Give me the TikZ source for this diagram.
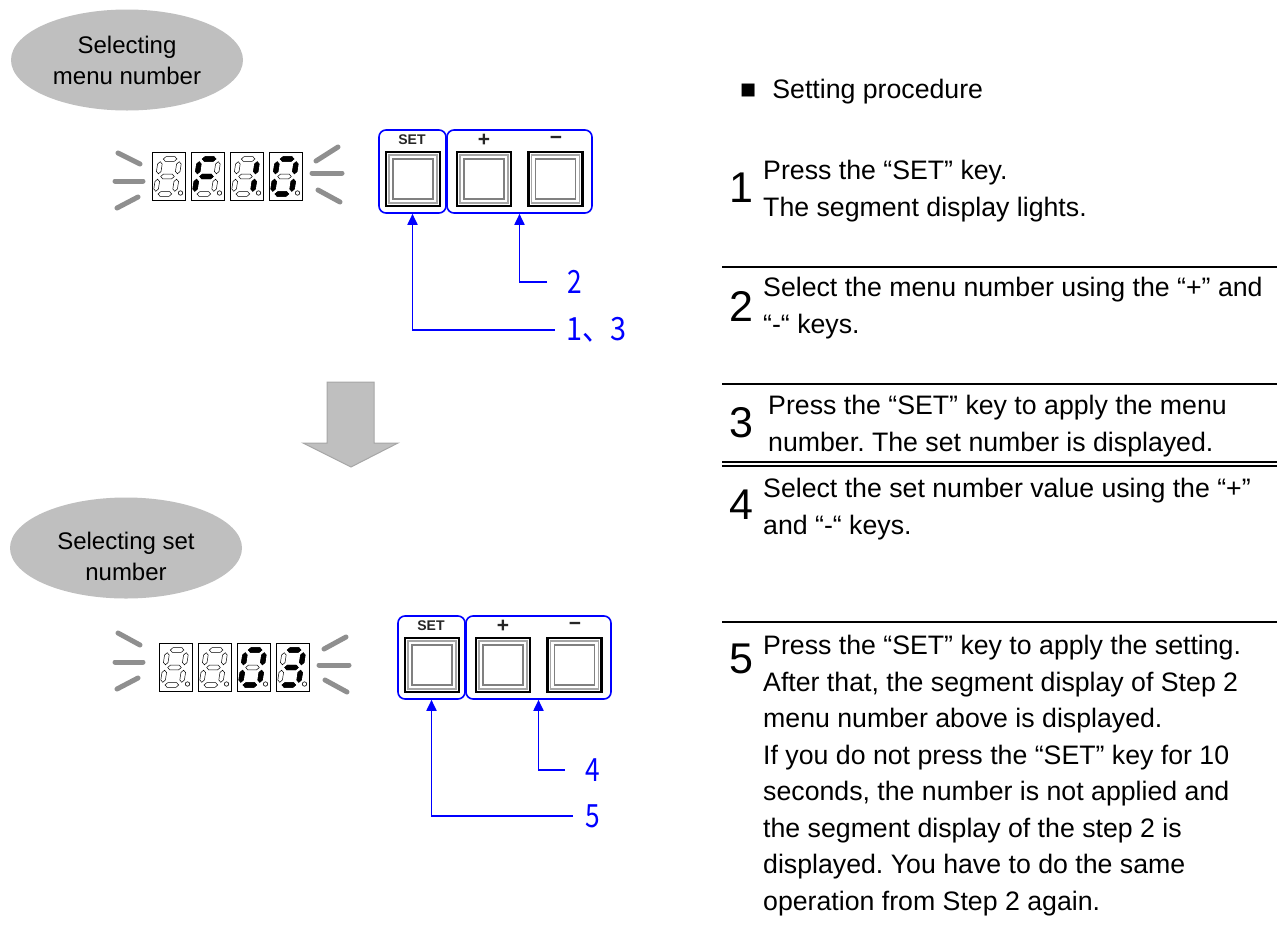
\documentclass[tikz,border=0pt]{standalone}
\usepackage{fontspec}
\setmainfont{Liberation Sans}
\newfontfamily\cjkfont{Noto Sans CJK JP}
\usetikzlibrary{arrows.meta,shapes.geometric,positioning}
\frenchspacing

\definecolor{bubblegray}{HTML}{BFBFBF}
\definecolor{glowgray}{HTML}{8F8F8F}
\definecolor{arrowedge}{HTML}{A6A6A6}
\definecolor{callblue}{HTML}{0000FF}

\tikzset{
  bubble/.style={ellipse,fill=bubblegray,minimum width=232pt,minimum height=101pt,inner sep=0pt,align=center,font=\fontsize{24}{31}\selectfont},
  bubbletext/.style={align=center,inner sep=0pt,font=\fontsize{24}{31}\selectfont},
  glow/.style={glowgray,line width=5pt,line cap=round},
  digbox/.style={draw,line width=0.8pt,minimum width=33pt,minimum height=48pt,inner sep=0pt},
  segon/.style={fill=black,draw=black,line width=0.5pt},
  segoff/.style={fill=white,draw=black,line width=0.5pt},
  grpbox/.style={draw=callblue,line width=1.6pt,rounded corners=7pt,inner sep=0pt,minimum height=83pt},
  keyout/.style={draw=black,line width=2.5pt,fill=white,minimum size=54pt,inner sep=0pt},
  keymid/.style={draw=gray!70,line width=1.2pt,minimum size=48pt,inner sep=0pt},
  keyin/.style={draw=gray,line width=1.5pt,fill=white,minimum size=40pt,inner sep=0pt},
  keylbl/.style={font=\fontsize{14}{14}\selectfont\bfseries,text=black!85,inner sep=0pt},
  signlbl/.style={font=\fontsize{21}{21}\selectfont\bfseries,text=black!85,inner sep=0pt},
  steplbl/.style={anchor=west,text=callblue,inner sep=0pt,font=\cjkfont\fontsize{32}{32}\selectfont},
  callout/.style={callblue,line width=1.8pt},
  stepnum/.style={font=\fontsize{43}{43}\selectfont,inner sep=0pt},
  steptext/.style={anchor=north west,align=left,inner sep=0pt,font=\fontsize{26.7}{36.5}\selectfont},
  rule/.style={line width=1.8pt},
}

% one segment of a digit: horizontal or vertical
\newcommand\hseg[2]{\draw[#1] (-6.8,#2) -- (-4.5,#2-2.3) -- (4.5,#2-2.3) -- (6.8,#2) -- (4.5,#2+2.3) -- (-4.5,#2+2.3) -- cycle;}
\newcommand\vseg[4]{\draw[#1] (#2,#3+2.7) -- (#2+2.3,#3+5) -- (#2+2.3,#4-5) -- (#2,#4-2.7) -- (#2-2.3,#4-5) -- (#2-2.3,#3+5) -- cycle;}
\newcommand\dsega[1]{\hseg{#1}{-17.5}}
\newcommand\dsegb[1]{\vseg{#1}{9.5}{-17.5}{0}}
\newcommand\dsegc[1]{\vseg{#1}{9.5}{0}{17.5}}
\newcommand\dsegd[1]{\hseg{#1}{17.5}}
\newcommand\dsege[1]{\vseg{#1}{-9.5}{0}{17.5}}
\newcommand\dsegf[1]{\vseg{#1}{-9.5}{-17.5}{0}}
\newcommand\dsegg[1]{\hseg{#1}{0}}
\newcommand\dsegx[1]{}

% digit cell: name, x, y (top left), lit segments
\newcommand\segdigit[4]{%
  \node[digbox] (#1) at (#2+16.5,#3+24) {};
  \begin{scope}[shift={(#1.center)},shift={(-1,0.5)},xslant=0.15]
    \foreach \s in {a,b,c,d,e,f,g} {\csname dseg\s\endcsname{segoff}}
    \foreach \s in {#4} {\csname dseg\s\endcsname{segon}}
  \end{scope}
  \fill[white,draw=black,line width=0.6pt] (#2+28.5,#3+41) circle (2.2);
}

% push key: name, centre x, centre y
\newcommand\keybtn[3]{%
  \node[keyout] (#1) at (#2,#3) {};
  \node[keymid] at (#1) {};
  \node[keyin] at (#1) {};
}

% SET / + / - key panel: suffix, shift
\newcommand\keypanel[3]{%
  \begin{scope}[shift={(#2,#3)}]
    \node[grpbox,minimum width=67pt] (setgrp#1) at (412.5,171.5) {};
    \node[grpbox,minimum width=145pt] (pmgrp#1) at (519.5,171.5) {};
    \node[keylbl] (setlbl#1) at (412,140) {SET};
    \node[signlbl] (plbl#1) at (484,140) {+};
    \node[signlbl] (mlbl#1) at (556,140) {−};
    \keybtn{setkey#1}{413}{179}
    \keybtn{pkey#1}{484}{179}
    \keybtn{mkey#1}{555.5}{179}
  \end{scope}
}

\begin{document}
\begin{tikzpicture}[x=1pt,y=-1pt,>={Stealth[length=11pt,width=10pt,inset=0pt]}]
\useasboundingbox (0,0) rectangle (1277,932);

% state bubbles
\node[bubble] (menububble) at (127,60) {Selecting\\menu number};
\node[bubble] (setbubble) at (126,548) {};
\node[bubbletext] (settext) at (126,556) {Selecting set\\number};

% menu number display
\draw[glow] (118,153) -- (140,164);
\draw[glow] (115,181) -- (143,181);
\draw[glow] (117,208) -- (138,197);
\draw[glow] (316,161) -- (338,147);
\draw[glow] (312,173) -- (342,173);
\draw[glow] (318,190) -- (340,202);
\segdigit{da1}{152}{152}{x}
\segdigit{da2}{191}{152}{a,f,g,e}
\segdigit{da3}{230}{152}{b,c}
\segdigit{da4}{269}{152}{a,b,c,d,e,f}

% set number display
\draw[glow] (118,633) -- (140,645);
\draw[glow] (115,662) -- (143,662);
\draw[glow] (117,689) -- (138,678);
\draw[glow] (324,649) -- (346,637);
\draw[glow] (319,665) -- (349,665);
\draw[glow] (325,680) -- (347,692);
\segdigit{db1}{159}{643}{x}
\segdigit{db2}{198}{643}{x}
\segdigit{db3}{237}{643}{a,b,c,d,e,f}
\segdigit{db4}{276}{643}{a,b,c,d,g}

% keys
\keypanel{1}{0}{0}
\keypanel{2}{19}{486}

% callouts
\node[steplbl] (lab2) at (567,282) {\scalebox{0.82}[1]{2}};
\node[steplbl] (lab13) at (566,330) {\scalebox{0.9}[1]{1、3}};
\draw[callout,->] ([xshift=-20pt]lab2.west) -| (pmgrp1.south);
\draw[callout,->] ([xshift=-11pt]lab13.west) -| (setgrp1.south);
\node[steplbl] (lab4) at (585,770) {\scalebox{0.82}[1]{4}};
\node[steplbl] (lab5) at (585,816) {\scalebox{0.82}[1]{5}};
\draw[callout,->] ([xshift=-20pt]lab4.west) -| (pmgrp2.south);
\draw[callout,->] ([xshift=-12pt]lab5.west) -| (setgrp2.south);

% transition arrow
\draw[fill=bubblegray,draw=arrowedge,line width=1pt] (327,382) -- (374,382) -- (374,443) -- (398,443) -- (351,467) -- (303,443) -- (327,443) -- cycle;

% procedure
\node[anchor=west,inner sep=0pt,font=\fontsize{26.7}{26.7}\selectfont] (heading) at (740,92) {■\hspace{0.6em}Setting procedure};

\node[stepnum] (n1) at (741,188) {1};
\node[steptext] (t1) at (763,160) {Press the “SET” key.\\The segment display lights.};
\draw[rule] (722,267) -- (1277,267);

\node[stepnum] (n2) at (741,306) {2};
\node[steptext] (t2) at (763,277) {Select the menu number using the “+” and\\“-“ keys.};
\draw[rule] (722,384) -- (1277,384);

\node[stepnum] (n3) at (741,423) {3};
\node[steptext] (t3) at (768,395) {Press the “SET” key to apply the menu\\number. The set number is displayed.};
\draw[line width=1.3pt] (722,462) -- (1277,462);
\draw[line width=1.3pt] (722,466) -- (1277,466);

\node[stepnum] (n4) at (741,505) {4};
\node[steptext] (t4) at (763,478) {Select the set number value using the “+”\\and “-“ keys.};
\draw[rule] (722,622) -- (1277,622);

\node[stepnum] (n5) at (741,659) {5};
\node[steptext] (t5) at (763,635) {Press the “SET” key to apply the setting.\\After that, the segment display of Step 2\\menu number above is displayed.\\If you do not press the “SET” key for 10\\seconds, the number is not applied and\\the segment display of the step 2 is\\displayed. You have to do the same\\operation from Step 2 again.};
\end{tikzpicture}
\end{document}
